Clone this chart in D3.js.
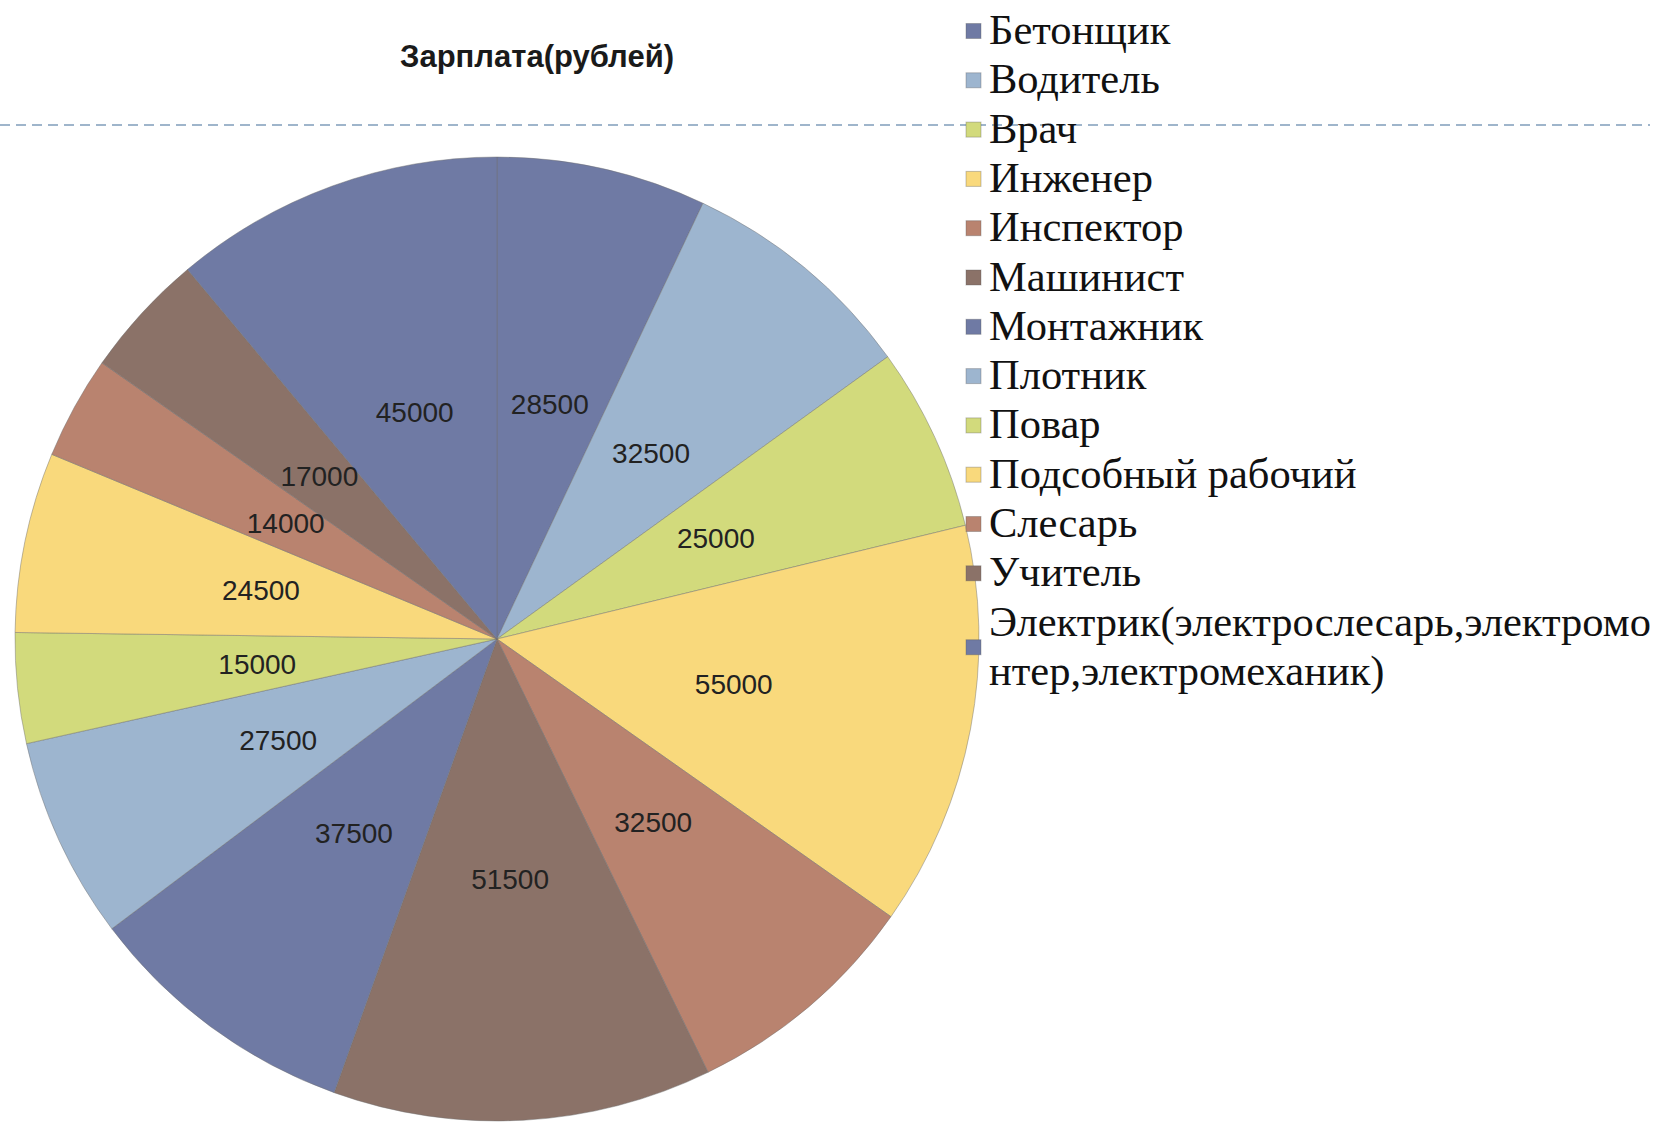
<html>
<head>
<meta charset="utf-8">
<title>Зарплата(рублей)</title>
<script src="https://d3js.org/d3.v7.min.js"></script>
<style>
	body { margin: 0; background: #fff; }
</style>
</head>
<body>
<svg id="chart" width="1659" height="1125"></svg>
<script>
// data
const professions = ["Бетонщик", "Водитель", "Врач", "Инженер", "Инспектор", "Машинист",
	"Монтажник", "Плотник", "Повар", "Подсобный рабочий", "Слесарь", "Учитель",
	"Электрик(электрослесарь,электромонтер,электромеханик)"];
const salaries = [28500, 32500, 25000, 55000, 32500, 51500, 37500, 27500, 15000, 24500, 14000, 17000, 45000];
const sliceColors = ["#6f7aa4", "#9db5cf", "#d2da7c", "#f9d97c", "#b9836f", "#8b7268"];
const title = "Зарплата(рублей)";

const svg = d3.select("#chart");
const cx = 497, cy = 639, radius = 482;

const color = d3.scaleOrdinal()
	.domain(d3.range(professions.length))
	.range(sliceColors);

const data = professions.map((p, i) => ({ name: p, value: salaries[i], idx: i }));

const pie = d3.pie().sort(null).value(d => d.value);
const arc = d3.arc().innerRadius(0).outerRadius(radius);
const labelArc = d3.arc().innerRadius(radius * 0.5).outerRadius(radius * 0.5);

// title
svg.append("text")
	.attr("x", 537).attr("y", 67)
	.attr("text-anchor", "middle")
	.style("font-family", "'Liberation Sans', Arial, sans-serif")
	.style("font-weight", "bold")
	.style("font-size", "31px")
	.style("fill", "#1a1a1a")
	.text(title);

// slices
const g = svg.append("g").attr("transform", "translate(" + cx + "," + cy + ")");
const arcs = pie(data);
g.selectAll("path").data(arcs).enter().append("path")
	.attr("d", arc)
	.attr("fill", d => color(d.data.idx))
	.attr("stroke", "rgba(110,110,110,0.45)")
	.attr("stroke-width", 1);

g.selectAll("text").data(arcs).enter().append("text")
	.attr("transform", d => "translate(" + labelArc.centroid(d) + ")")
	.attr("text-anchor", "middle")
	.attr("dy", "0.35em")
	.style("font-family", "'Liberation Sans', Arial, sans-serif")
	.style("font-size", "28px")
	.style("fill", "#222")
	.text(d => d.data.value);

// dashed slide line
svg.append("line")
	.attr("x1", 0).attr("x2", 1650)
	.attr("y1", 125).attr("y2", 125)
	.attr("stroke", "#9fb5cb")
	.attr("stroke-width", 2)
	.attr("stroke-dasharray", "10,6");

// legend
const leg = svg.append("g");
const legX = 989, maxW = 1659 - legX, lineH = 49.3;
let baseY = 44;
data.forEach((d, i) => {
	const t = leg.append("text")
		.attr("x", legX)
		.style("font-family", "'Liberation Serif', 'Times New Roman', serif")
		.style("font-size", "42.5px")
		.style("fill", "#111");
	// wrap by characters like the original
	let lines = [];
	let cur = "";
	const probe = t.append("tspan").attr("x", legX).attr("y", -100);
	for (const ch of d.name) {
		probe.text(cur + ch);
		if (probe.node().getComputedTextLength() > maxW && cur.length) {
			lines.push(cur);
			cur = ch;
		} else {
			cur += ch;
		}
	}
	lines.push(cur);
	probe.remove();
	lines.forEach((l, k) => {
		t.append("tspan").attr("x", legX).attr("y", baseY + k * lineH).text(l);
	});
	const midY = baseY + (lines.length - 1) * lineH / 2 - 13;
	leg.append("rect")
		.attr("x", 966).attr("y", midY - 7.5)
		.attr("width", 15).attr("height", 15)
		.attr("fill", color(d.idx))
		.attr("stroke", "rgba(90,90,90,0.35)")
		.attr("stroke-width", 1);
	baseY += lines.length * lineH;
});
</script>
</body>
</html>
